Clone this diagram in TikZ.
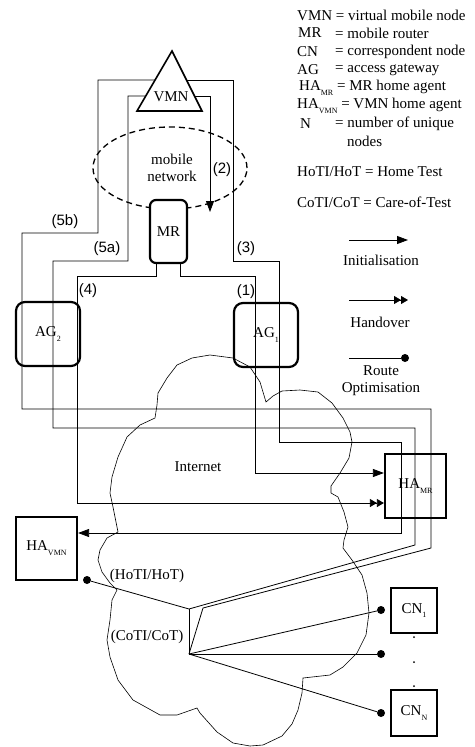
\documentclass[tikz,border=0pt]{standalone}
\usepackage{fontspec}
\setmainfont{Liberation Serif}
\newfontfamily\labfont{Liberation Sans}
\usetikzlibrary{arrows.meta}
\tikzset{wire/.style={line width=.8pt},
         init/.style={wire,-{Triangle[length=11pt,width=8pt]}},
         hand/.style={wire,-{Triangle[length=7pt,width=8pt]Triangle[length=7pt,width=8pt]}},
         box/.style={draw,line width=2.2pt,minimum width=61pt,minimum height=64pt,inner sep=0pt},
         gw/.style={box,rounded corners=9pt,minimum width=64pt},
         cnbox/.style={box,minimum width=46pt,minimum height=45pt},
         dot/.style={circle,fill,inner sep=0pt,minimum size=8pt},
         plab/.style={font=\fontsize{15}{17}\selectfont\labfont,inner sep=0pt},
         leg/.style={anchor=west,inner sep=0pt}}
\newcommand\lowidx[1]{\raisebox{-.7ex}{\fontsize{8}{8}\selectfont #1}}

\begin{document}
\begin{tikzpicture}[x=1pt,y=-1pt,font=\fontsize{15}{17}\selectfont]
  \useasboundingbox (0,0) rectangle (474,747);
  % Internet cloud
  \draw[line width=.6pt] (155,418) -- (157,405) -- (158,393) -- (167,378) -- (177,365) -- (192,358)
    -- (210,355) -- (233,358) -- (250,367) -- (260,382) -- (266,402) -- (273,396) -- (282,391)
    -- (300,390) -- (318,392) -- (332,403) -- (343,418) -- (350,432) -- (352,442) -- (349,458)
    -- (340,473) -- (331,486) -- (331,493) -- (338,497) -- (344,512) -- (348,527) -- (344,540)
    -- (343,548) -- (352,560) -- (362,575) -- (367,593) -- (369,613) -- (366,635) -- (357,653)
    -- (343,667) -- (330,675) -- (303,678) -- (302,693) -- (298,710) -- (292,724) -- (282,736)
    -- (263,745) -- (250,746) -- (233,743) -- (217,732) -- (200,713) -- (197,708) -- (177,715)
    -- (160,715) -- (133,700) -- (118,680) -- (110,657) -- (107,640) -- (110,620) -- (112,600)
    -- (117,590) -- (110,583) -- (102,572) -- (98,560) -- (100,550) -- (107,538) -- (118,532)
    -- (113,507) -- (110,493) -- (112,477) -- (118,457) -- (127,437) -- (140,425) -- cycle;
  \draw[line width=1.3pt,dash pattern=on 6pt off 4pt] (170,168) ellipse [x radius=77pt,y radius=41pt];

  \coordinate (vmnc) at (171,97);
  \node[gw,minimum width=37pt,minimum height=63pt,rounded corners=6pt,fill=white] (mr) at (168.5,231.5) {MR};
  \node[gw] (ag2) at (48,334) {AG\lowidx{2}};
  \node[gw] (ag1) at (266,335) {AG\lowidx{1}};
  \node[box] (hamr) at (415.5,486) {HA\lowidx{MR}};
  \node[box,minimum height=63pt] (havmn) at (46.5,548.5) {HA\lowidx{VMN}};
  \node[cnbox] (cn1) at (414,610.5) {CN\lowidx{1}};
  \node[cnbox,minimum height=46pt] (cnn) at (414,713) {CN\lowidx{N}};
  \coordinate (hoti) at (189,609);
  \coordinate (hub) at (189,654);
  \node[dot] (d0) at (87,580) {};
  \node[dot] (d1) at (381,610) {};
  \node[dot] (d2) at (381,654) {};
  \node[dot] (d3) at (381,713) {};
  \foreach \y [count=\i] in {637,662,686}
    \node[dot,minimum size=2pt] (cd\i) at (414,\y) {};

  \draw[wire] (vmnc |- 0,80) -| (98,233) -| (22,409) -| (431,548) -- (203,608) -- (hub);
  \draw[init] (vmnc |- 0,80) -| (233,261) -| (279,442) -| (401,533) -- (havmn.east |- 0,533);
  \draw[wire] (vmnc |- 0,96) -| (128,261) -| (53,428) -| (415,545) -- (hoti);
  \draw[init] (vmnc |- 0,96) -| (210,212);
  \draw[init] ([xshift=11.5pt]mr.south) |- (255,276) |- (hamr.west |- 0,473);
  \draw[hand] ([xshift=-12.5pt]mr.south) |- (77,276) |- (hamr.west |- 0,503);
  \draw[wire] (hoti) -- (d0);
  \draw[wire] (hoti) -- (hub);
  \draw[wire] (hub) -- (d1);
  \draw[wire] (hub) -- (d2);
  \draw[wire] (hub) -- (d3);

  \draw[line width=1.6pt,fill=white] (172,51) -- (202,111) -- (137,111) -- cycle;
  \node (vmn) at (vmnc) {VMN};

  \node[align=center] (mnet) at (172,168) {mobile\\network};
  \node (inet) at (198,467) {Internet};
  \node (hotl) at (147,576) {(HoTI/HoT)};
  \node (cotl) at (147,637) {(CoTI/CoT)};
  \node[plab] (l5b) at (65,222) {(5b)};
  \node[plab] (l5a) at (107,249) {(5a)};
  \node[plab] (l4) at (88,291) {(4)};
  \node[plab] (l3) at (246,249) {(3)};
  \node[plab] (l1) at (246,292) {(1)};
  \node[plab] (l2) at (222,170) {(2)};

  \node[leg] (k1) at (297,15) {VMN = virtual mobile node};
  \node[leg] (k2) at (298,33) {MR};
  \node[leg] (v2) at (335,33) {= mobile router};
  \node[leg] (k3) at (297,52) {CN};
  \node[leg] (v3) at (335,52) {= correspondent node};
  \node[leg] (k4) at (297,70) {AG};
  \node[leg] (v4) at (335,70) {= access gateway};
  \node[leg] (k5) at (299,88) {HA\lowidx{MR} = MR home agent};
  \node[leg] (k6) at (297,106) {HA\lowidx{VMN} = VMN home agent};
  \node[leg] (k7) at (300,124) {N};
  \node[leg] (v7) at (335,124) {= number of unique};
  \node[leg] (v7b) at (347,141) {nodes};
  \node[leg] (k8) at (297,172) {HoTI/HoT = Home Test};
  \node[leg] (k9) at (297,202) {CoTI/CoT = Care-of-Test};

  \coordinate (a1) at (349,240);
  \coordinate (a2) at (408,240);
  \coordinate (b1) at (349,300);
  \coordinate (b2) at (408,300);
  \coordinate (c1) at (349,358);
  \node[dot] (c2) at (405,358) {};
  \draw[init] (a1) -- (a2);
  \draw[hand] (b1) -- (b2);
  \draw[wire] (c1) -- (c2);
  \node (linit) at (381,260) {Initialisation};
  \node (lhand) at (380,322) {Handover};
  \node[align=center] (lrout) at (381,381) {Route\\Optimisation};
\end{tikzpicture}
\end{document}
